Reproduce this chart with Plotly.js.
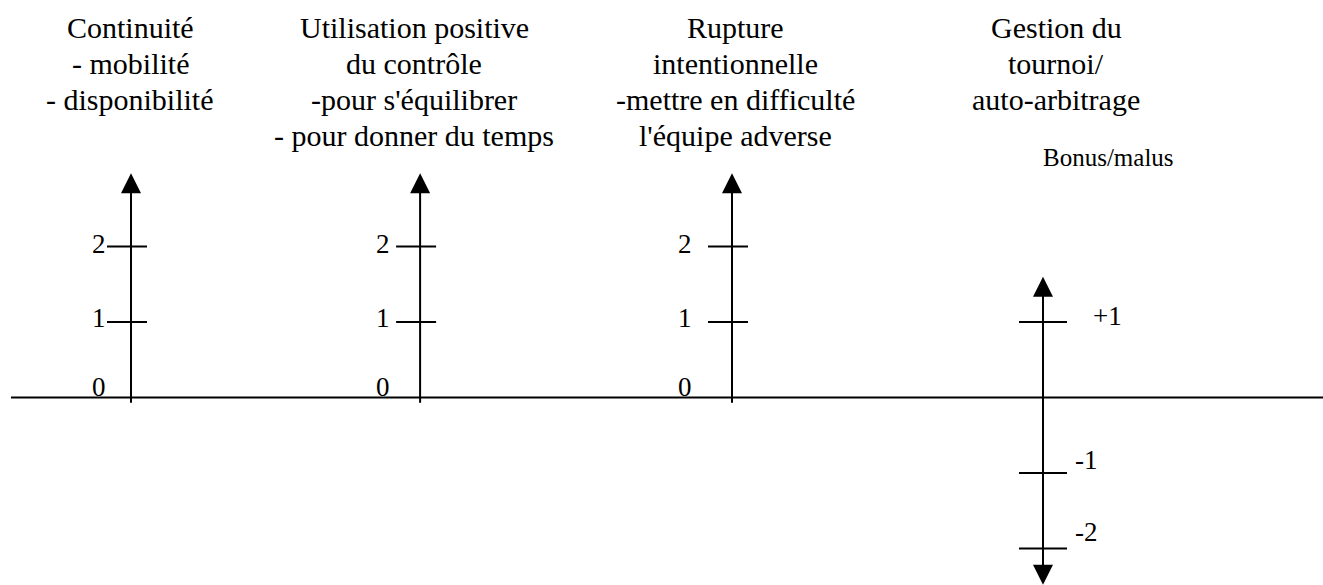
<!DOCTYPE html>
<html>
<head>
<meta charset="utf-8">
<script src="https://cdn.plot.ly/plotly-3.0.1.min.js"></script>
<style>html,body{margin:0;padding:0;background:#fff;}#chart{width:1323px;height:585px;}</style>
</head>
<body>
<div id="chart"></div>
<script>
// ---- data ----
const categories = [
  "Continuité<br>- mobilité<br>- disponibilité",
  "Utilisation positive<br>du contrôle<br>-pour s'équilibrer<br>- pour donner du temps",
  "Rupture<br>intentionnelle<br>-mettre en difficulté<br>l'équipe adverse",
  "Gestion du<br>tournoi/<br>auto-arbitrage"
];
const tickValues = [[0, 1, 2], [0, 1, 2], [0, 1, 2], [1, -1, -2]];
const tickLabels = [["0", "1", "2"], ["0", "1", "2"], ["0", "1", "2"], ["+1", "-1", "-2"]];
const axisMax = [2.97, 2.97, 2.97, 1.6];
const axisMin = [0, 0, 0, -2.48];
const extraLabel = "Bonus/malus";

// ---- layout constants (positions / styles) ----
const axisPos = [0, 0.951, 1.977, 3.0];
const xRange = [-131 / 304, (1323 - 131) / 304];
const yRange = [-(585 - 397.5) / 75.5, 397.5 / 75.5];
const tickLeft = [24, 24, 24, 24].map(v => v / 304);
const tickRight = [16, 16, 16, 24].map(v => v / 304);
const labelXShift = [[-32, -32, -32], [-37, -37, -37], [-47, -47, -47], [64, 43, 43]];
const labelYShift = [[11, 4, 3], [11, 4, 3], [11, 4, 3], [6, 13, 17]];
const titleXShift = [-1, -6, 3, 13];
const titleTop = 27, titleLineGap = 36;
const below = 0.07;
const black = "#000000";
const SERIF = "'Liberation Serif', 'Times New Roman', Times, serif";
const font = (size) => ({family: SERIF, size: size, color: black});

const traces = [];
// baseline
traces.push({x: [-120 / 304, xRange[1]], y: [0, 0], mode: "lines",
  line: {color: black, width: 2}, hoverinfo: "skip", cliponaxis: false});

// vertical axes
categories.forEach((c, i) => {
  const bottom = axisMin[i] < 0 ? axisMin[i] + 0.1 : axisMin[i] - below;
  traces.push({x: [axisPos[i], axisPos[i]], y: [bottom, axisMax[i] - 0.1], mode: "lines",
    line: {color: black, width: 2}, hoverinfo: "skip", cliponaxis: false});
});

// arrowheads
const upX = [], upY = [], dnX = [], dnY = [];
categories.forEach((c, i) => {
  upX.push(axisPos[i]); upY.push(axisMax[i]);
  if (axisMin[i] < 0) { dnX.push(axisPos[i]); dnY.push(axisMin[i]); }
});
traces.push({x: upX, y: upY, mode: "markers", marker: {symbol: "arrow-up", size: 20, color: black, line: {width: 0}},
  hoverinfo: "skip", cliponaxis: false});
traces.push({x: dnX, y: dnY, mode: "markers", marker: {symbol: "arrow-down", size: 20, color: black, line: {width: 0}},
  hoverinfo: "skip", cliponaxis: false});

// ticks (value 0 lies on the baseline)
const tx = [], ty = [];
tickValues.forEach((vals, i) => {
  vals.forEach(v => {
    if (v === 0) return;
    tx.push(axisPos[i] - tickLeft[i], axisPos[i] + tickRight[i], null);
    ty.push(v, v, null);
  });
});
traces.push({x: tx, y: ty, mode: "lines", line: {color: black, width: 2}, hoverinfo: "skip", cliponaxis: false});

// annotations
const annotations = [];
categories.forEach((c, i) => {
  c.split("<br>").forEach((line, k) => {
    annotations.push({text: line, x: axisPos[i], xref: "x", xshift: titleXShift[i],
      y: 1, yref: "paper", yanchor: "middle", yshift: -(titleTop + titleLineGap * k),
      xanchor: "center", align: "center", showarrow: false, font: font(30)});
  });
  tickValues[i].forEach((v, j) => {
    annotations.push({text: tickLabels[i][j], x: axisPos[i], xref: "x", xshift: labelXShift[i][j],
      y: v, yref: "y", yshift: labelYShift[i][j], xanchor: "center", yanchor: "middle",
      showarrow: false, font: font(27)});
  });
});
annotations.push({text: extraLabel, x: axisPos[3], xref: "x", xshift: 65,
  y: 1, yref: "paper", yanchor: "middle", yshift: -157, xanchor: "center",
  showarrow: false, font: font(25)});

const layout = {
  width: 1323, height: 585,
  margin: {l: 0, r: 0, t: 0, b: 0, pad: 0},
  paper_bgcolor: "#ffffff", plot_bgcolor: "#ffffff",
  font: {family: SERIF, color: black},
  showlegend: false,
  xaxis: {range: xRange, visible: false, fixedrange: true},
  yaxis: {range: yRange, visible: false, fixedrange: true},
  annotations: annotations
};

Plotly.newPlot("chart", traces, layout, {staticPlot: true, displayModeBar: false});
</script>
</body>
</html>
